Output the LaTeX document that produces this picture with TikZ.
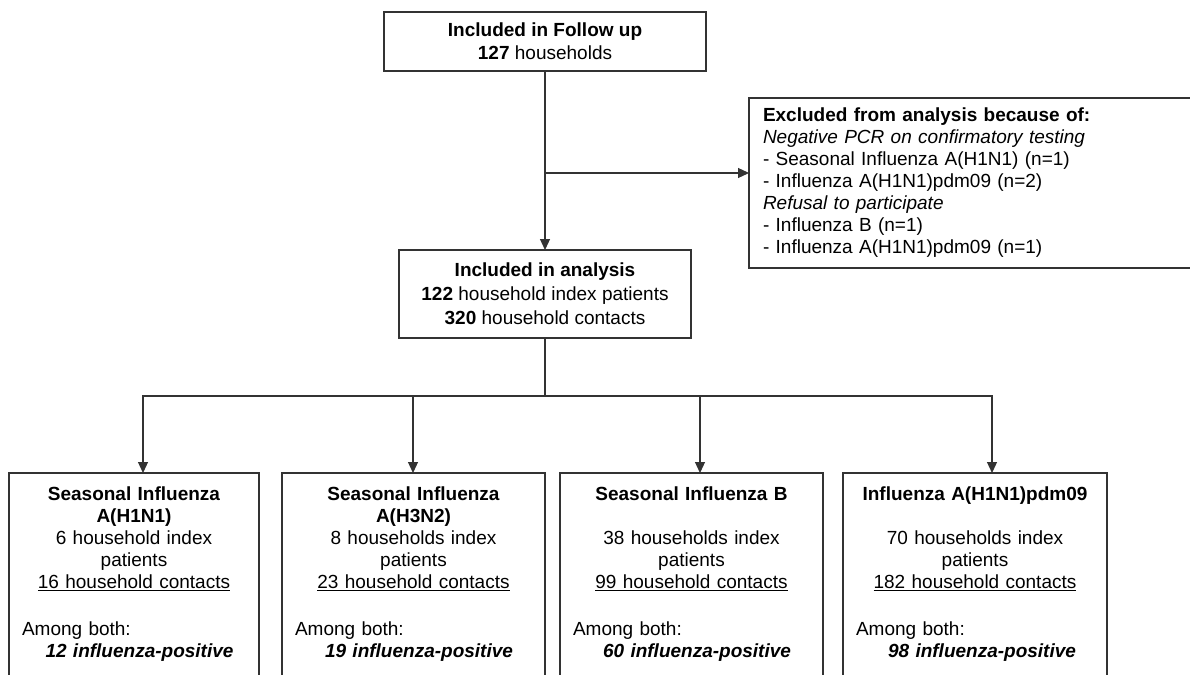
\documentclass[tikz,border=0pt]{standalone}
\usepackage{fontspec}
\setmainfont{Liberation Sans}
\usepackage{tikz}
\usetikzlibrary{arrows.meta}
\setlength\parindent{0pt}

\begin{document}
\begin{tikzpicture}[
x=1pt, y=-1pt,
 font=\fontsize{19}{22}\selectfont,
    B/.style = {rectangle, draw=black!80, line width=1.2pt,% boxes of the chart
                align=center, outer sep=0pt, inner sep=0pt},
    E/.style = {B, anchor=north west, align=left, text width=460pt,
                minimum height=170pt, inner xsep=14pt},
    F/.style = {B, anchor=north, text width=#1, inner xsep=13pt,
                inner ysep=14pt, text depth=240pt},% lower end is cut off
    L/.style = {draw=black!80, line width=1.2pt},
    A/.style = {L, -{Triangle[length=11pt,width=10pt]}},
                        ]
\useasboundingbox (0,0) rectangle (1190,674);
\clip (0,0) rectangle (1190,674);

\node[B, minimum width=322pt, minimum height=59pt] (follow) at (545,41.5)
    {\textbf{Included in Follow up}\\[1pt]\textbf{127} households};
\node[B, minimum width=292pt, minimum height=88pt] (analysis) at (545,294)
    {\textbf{Included in analysis}\\[2pt]\textbf{122} household index patients\\[2pt]\textbf{320} household contacts};
\node[E] (excl) at (749,98)
    {\textbf{Excluded from analysis because of:}\\
     \textit{Negative PCR on confirmatory testing}\\
     - Seasonal Influenza A(H1N1) (n=1)\\
     - Influenza A(H1N1)pdm09 (n=2)\\
     \textit{Refusal to participate}\\
     - Influenza B (n=1)\\
     - Influenza A(H1N1)pdm09 (n=1)};

\node[F=224pt] (flu1) at (134,473)
    {\textbf{Seasonal Influenza}\\\textbf{A(H1N1)}\\6 household index\\patients\\\underline{16 household contacts}\par
     \vspace{25pt}\raggedright Among both:\\\hspace*{11pt}\textbf{\textit{12 influenza-positive}}};
\node[F=237pt] (flu2) at (413.5,473)
    {\textbf{Seasonal Influenza}\\\textbf{A(H3N2)}\\8 households index\\patients\\\underline{23 household contacts}\par
     \vspace{25pt}\raggedright Among both:\\\hspace*{11pt}\textbf{\textit{19 influenza-positive}}};
\node[F=237pt] (flu3) at (691.5,473)
    {\textbf{Seasonal Influenza B}\\[22pt]38 households index\\patients\\\underline{99 household contacts}\par
     \vspace{25pt}\raggedright Among both:\\\hspace*{11pt}\textbf{\textit{60 influenza-positive}}};
\node[F=238pt] (flu4) at (975,473)
    {\textbf{Influenza A(H1N1)pdm09}\\[22pt]70 households index\\patients\\\underline{182 household contacts}\par
     \vspace{25pt}\raggedright Among both:\\\hspace*{14pt}\textbf{\textit{98 influenza-positive}}};

% connectors
\coordinate (turn) at (545,173);
\coordinate (split) at (545,396);
\draw[A] (follow) -- (analysis);
\draw[A] (turn) -- (turn -| excl.west);
\draw[L] (analysis) -- (split);
\foreach \n/\x in {1/143,2/413,3/700,4/992}{
    \coordinate (d\n) at (\x,396);
    \draw[A] (d\n) -- (d\n |- flu\n.north);
}
\draw[L, line cap=rect] (d1) -- (d4);
\end{tikzpicture}
\end{document}
